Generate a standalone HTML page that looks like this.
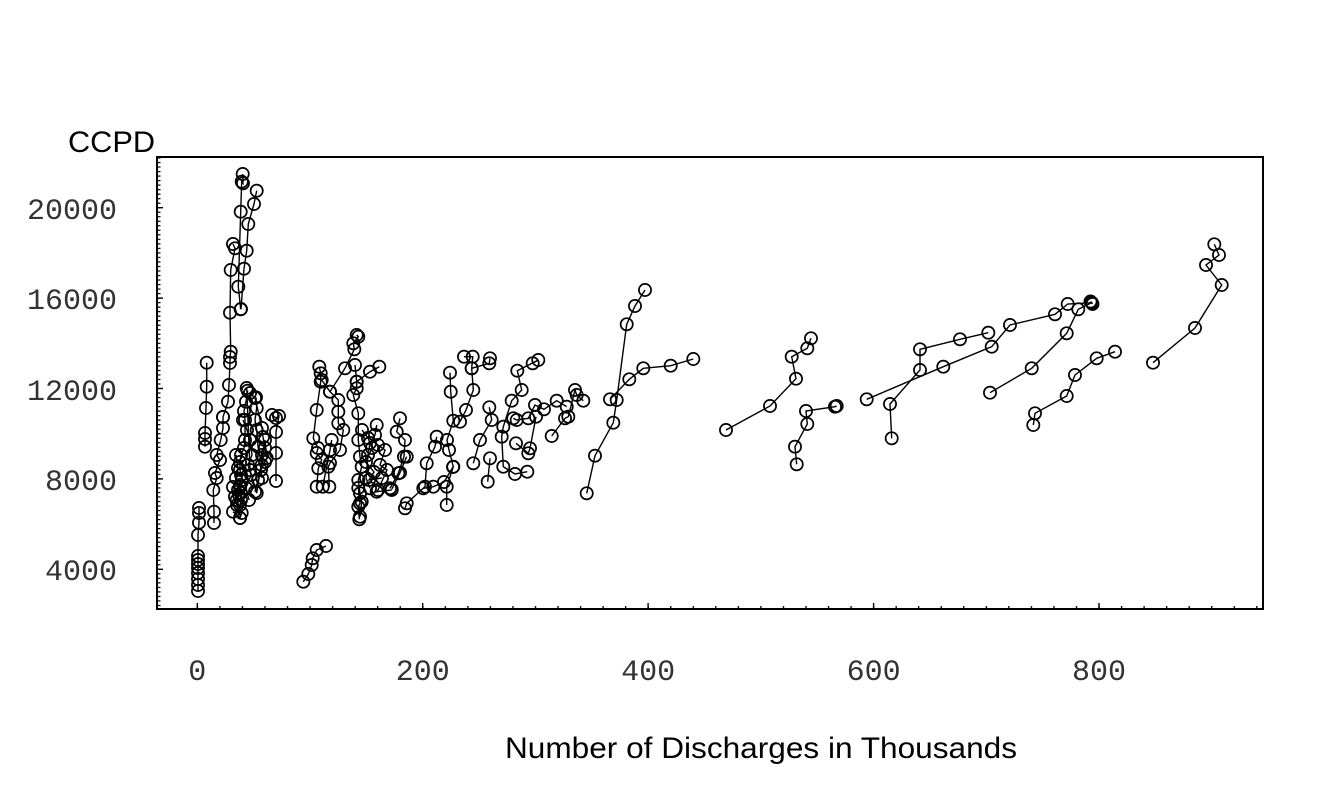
<!DOCTYPE html>
<html>
<head>
<meta charset="utf-8">
<style>
html,body{margin:0;padding:0;background:#fff;}
svg{display:block;}
</style>
</head>
<body>
<svg width="1344" height="806" viewBox="0 0 1344 806" xmlns="http://www.w3.org/2000/svg">
<defs>
<marker id="m" markerWidth="18" markerHeight="18" refX="9" refY="9" markerUnits="userSpaceOnUse" overflow="visible">
<circle cx="9" cy="9" r="6.1" fill="none" stroke="#000" stroke-width="1.7"/>
</marker>
<pattern id="yt" patternUnits="userSpaceOnUse" x="0" y="207.1" width="10" height="4.52">
<rect x="0" y="0" width="10" height="1.2" fill="#000"/>
</pattern>
<pattern id="xt" patternUnits="userSpaceOnUse" x="196.7" y="0" width="22.542" height="10">
<rect x="0" y="0" width="1.3" height="10" fill="#000"/>
</pattern>
</defs>
<rect width="1344" height="806" fill="#fff"/>

<!-- minor ticks -->
<rect x="157" y="158" width="3.5" height="450" fill="url(#yt)"/>
<rect x="196" y="606" width="1066" height="3" fill="url(#xt)"/>
<!-- major ticks -->
<g stroke="#000" stroke-width="1.4">
<line x1="157" y1="207.7" x2="163" y2="207.7"/>
<line x1="157" y1="298.1" x2="163" y2="298.1"/>
<line x1="157" y1="388.5" x2="163" y2="388.5"/>
<line x1="157" y1="478.9" x2="163" y2="478.9"/>
<line x1="157" y1="569.3" x2="163" y2="569.3"/>
<line x1="197.3" y1="609" x2="197.3" y2="603"/>
<line x1="422.7" y1="609" x2="422.7" y2="603"/>
<line x1="648.1" y1="609" x2="648.1" y2="603"/>
<line x1="873.6" y1="609" x2="873.6" y2="603"/>
<line x1="1099" y1="609" x2="1099" y2="603"/>
</g>

<!-- frame -->
<rect x="157" y="157" width="1106" height="452" fill="none" stroke="#000" stroke-width="2"/>

<!-- labels -->
<g font-family="'Liberation Mono', monospace" font-size="30" fill="#333">
<text x="117" y="219" text-anchor="end">20000</text>
<text x="117" y="309" text-anchor="end">16000</text>
<text x="117" y="400" text-anchor="end">12000</text>
<text x="117" y="490" text-anchor="end">8000</text>
<text x="117" y="580" text-anchor="end">4000</text>
<text x="197.3" y="680" text-anchor="middle">0</text>
<text x="422.7" y="680" text-anchor="middle">200</text>
<text x="648.1" y="680" text-anchor="middle">400</text>
<text x="873.6" y="680" text-anchor="middle">600</text>
<text x="1099" y="680" text-anchor="middle">800</text>
</g>
<text x="68" y="152" font-family="'Liberation Sans', sans-serif" font-size="30" fill="#000" textLength="87" lengthAdjust="spacingAndGlyphs">CCPD</text>
<text x="505" y="758" font-family="'Liberation Sans', sans-serif" font-size="30" fill="#000" textLength="512" lengthAdjust="spacingAndGlyphs">Number of Discharges in Thousands</text>

<!-- data series -->
<g fill="none" stroke="#000" stroke-width="1.4" marker-start="url(#m)" marker-mid="url(#m)" marker-end="url(#m)">
<polyline points="206.7,362.7 206.7,386.7 206,408 205,433 205,439 205,446.7"/>
<polyline points="199,508 199,513 199,522.7 198,535 198,556 198,560 198,564 198,568 198,573 198,579 198,585 198,591"/>
<polyline points="223,417 223,428 220.7,440 216.7,455 220,460 215,473 216.7,478 213.3,490 214,511.7 214,523"/>
<polyline points="242.7,174 243,183.3 241.7,181.7 240.7,211.7 238.3,286.7 240.7,309.3"/>
<polyline points="256.7,190.7 254,204 248.3,224 246.7,250.7 244,268.7 241,309"/>
<polyline points="233,244 235,248.3 230.7,270 230,312.7 230.7,351.7 230,357 230,363 229,385 228,401.7 223,417"/>
<polyline points="247.7,390.7 246,401.7 244,411 245,420 245,440 244,448 241,455 240,462 240,470 241,475 242,480 240,487 241,493 241,500 240,505 240,518"/>
<polyline points="256,397.3 256.7,408 255,420 256.7,430 258,446.7 261.7,465 258,480 255,491.7"/>
<polyline points="250,393 255,398 262,428 263,437 265,448 262,455 265,462 261,470 262,478"/>
<polyline points="235,496.7 238,490 233,487 240,485 236.7,500 241.7,513 240,518 233,511.7"/>
<polyline points="246.7,388 250,470 256.7,493 265,440 266.7,458"/>
<polyline points="243,420 247,430 250,440 252,455 248,465 251,475 246,488 249,500"/>
<polyline points="236,455 238,468 236,478 239,495 237,505"/>
<polyline points="272,415 276,418 279,416 276,432 276,453 276,481"/>
<polyline points="303.3,581.7 308.3,574 311.7,565 312.7,558.3 316.7,550 326,546"/>
<polyline points="319.3,366.7 320.7,373.3 320.7,381.7 316.7,410 313.3,438.3 318,448 316.7,453 321.7,460 318.3,468.3 316.7,486.7"/>
<polyline points="321.7,380 330,391.7 338.3,400 338.3,411.7 338.3,423.3 343.3,430 340,450 330,463 328.3,466.7 329.3,486.7"/>
<polyline points="331.7,440 330,450 322.7,486.7"/>
<polyline points="356.7,335 358.3,336.7 353.3,343.3 354.3,349.3 345,368.3 330,391.7"/>
<polyline points="355,365 356.7,381.7 356.7,388.3 353.3,395 358.3,413.3 358.3,440 360,456.7 361.7,466.7 358.3,480 360,493.3 361.7,501.7 360,516.7"/>
<polyline points="358.3,488 360,503.3 358.3,506.7 359.3,519.3"/>
<polyline points="356.7,381.7 370,371.7 379.3,366.7"/>
<polyline points="376.7,425 375,435 370,443 368,455 366,478 370,488.3"/>
<polyline points="378,445 385,450 380,465 387,470 378,490 376.7,491.7 391.7,490"/>
<polyline points="362,430 368,438 372,448 366,462 374,472 369,480 382,478"/>
<polyline points="400,418.3 396.7,431.7 405,440 404,456.7 398.3,473.3 390,488.3"/>
<polyline points="406.7,456.7 400,472.7 391.7,489.3"/>
<polyline points="436.7,436.7 435,446.7 426.7,463.3 425,486.7 406.7,503.3 405,508.3"/>
<polyline points="423.3,488.3 433.3,486.7 444,482 453,467"/>
<polyline points="450,372.7 450.7,391.7 453.3,420.7 447,440 449,450 453.3,466.7 446.7,486.7 446.7,505"/>
<polyline points="464,356.7 472.7,356.7 471.7,368.3 473.3,390 466,410 460,421.7"/>
<polyline points="471.7,368.3 489.3,363.3 490,358.3"/>
<polyline points="489.3,407.3 491.7,420 480,440 473.3,463.3"/>
<polyline points="490,458.3 487.7,481.7"/>
<polyline points="532.7,363.3 538.3,360 517.3,370.7 521.7,390 511.7,400.7 503.3,426.7 501.7,436.7 503.3,466.7 515,474 527.3,471.7"/>
<polyline points="513.3,418.3 516.7,420 528.3,418.3 535,405 544,409.3 556.7,400.7 566.7,406.7"/>
<polyline points="536,416.7 530,448.3 528.3,453.3 516,443.3"/>
<polyline points="551.7,436 565,418.3 568.3,416.7 575,390 576.7,395 583.3,400.7"/>
<polyline points="586.7,493.3 595,455.7 613.3,422.7 616.7,400 626.7,324.3 635,306 645,290"/>
<polyline points="610,399.3 629.3,379.3 643.3,368.3 670.7,365.7 693.3,359"/>
<polyline points="726,430 770,406 796,378.7 791.7,356.7 807.3,348.3 811,338.3"/>
<polyline points="796.7,464.3 795,446.7 807.3,424 806,411 835,406.7 836.7,406"/>
<polyline points="866.7,399.3 943.3,366.7 991.7,346.7 1010,325 1055,314.3 1067.7,304 1091.7,302.7"/>
<polyline points="891.7,438.3 890,404 920,370 920,349.3 960,339.3 988.3,332.7"/>
<polyline points="990,392.7 1031.7,368.3 1066.7,333.3 1078.3,309.3 1091.7,302.7 1090.5,301.5 1092.5,304"/>
<polyline points="1033.3,425 1035,413.3 1066.7,396 1075,375 1096.7,358.3 1115,351.7"/>
<polyline points="1214.3,244.3 1219,255 1206,265 1221.7,285 1195,328 1153,362.7"/>
</g>
</svg>
</body>
</html>
